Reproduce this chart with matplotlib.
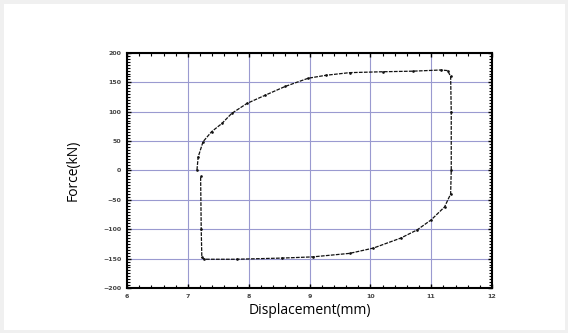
import matplotlib.pyplot as plt
from matplotlib.patches import Rectangle
from matplotlib.ticker import MultipleLocator

# load-displacement loop
disp = [7.15, 7.17, 7.25, 7.39, 7.56, 7.72, 7.97, 8.27, 8.60, 8.98, 9.27, 9.66,
        10.20, 10.70, 11.16, 11.27, 11.32, 11.33, 11.33, 11.32, 11.22, 11.00,
        10.77, 10.50, 10.05, 9.66, 9.05, 8.55, 7.80, 7.27, 7.23, 7.22, 7.21]
force = [1, 23, 49, 66, 80, 97, 114, 128, 143, 157, 162, 166.5,
         168, 169, 171, 170, 160, 100, 0, -40, -62, -84,
         -101, -115, -132, -141, -147, -149, -151, -151, -148, -100, -10]

x_ticks = [6, 7, 8, 9, 10, 11, 12]
y_ticks = [-200, -150, -100, -50, 0, 50, 100, 150, 200]

fig = plt.figure(figsize=(5.68, 3.33), dpi=100)
fig.patches.append(Rectangle((0, 0), 1, 1, transform=fig.transFigure,
                             fill=False, edgecolor='#f0f0f0', linewidth=5))
ax = fig.add_axes([0.2236, 0.135, 0.6426, 0.706])

ax.plot(disp, force, color='#111111', linewidth=0.9, linestyle=(0, (3, 1)),
        marker='.', markersize=1.8)

ax.set_xlim(6, 12)
ax.set_ylim(-200, 200)
ax.set_xticks(x_ticks)
ax.set_yticks(y_ticks)
ax.xaxis.set_minor_locator(MultipleLocator(0.2))
ax.yaxis.set_minor_locator(MultipleLocator(5))
ax.grid(True, which='major', color='#9a9ad0', linewidth=0.8)
ax.set_axisbelow(True)
ax.tick_params(which='both', direction='in', top=True, right=True,
               labelsize=4.5, labelcolor='#444444', pad=4)
ax.tick_params(which='major', length=3, width=1)
ax.tick_params(which='minor', length=2, width=0.8)
for lab in ax.get_xticklabels() + ax.get_yticklabels():
    lab.set_fontweight('bold')
for s in ax.spines.values():
    s.set_linewidth(1.5)

ax.set_xlabel('Displacement(mm)', fontsize=10, family='Open Sans', labelpad=3)
ax.set_ylabel('Force(kN)', fontsize=10, family='Open Sans', labelpad=16)

fig.savefig('out.png', dpi=100)
